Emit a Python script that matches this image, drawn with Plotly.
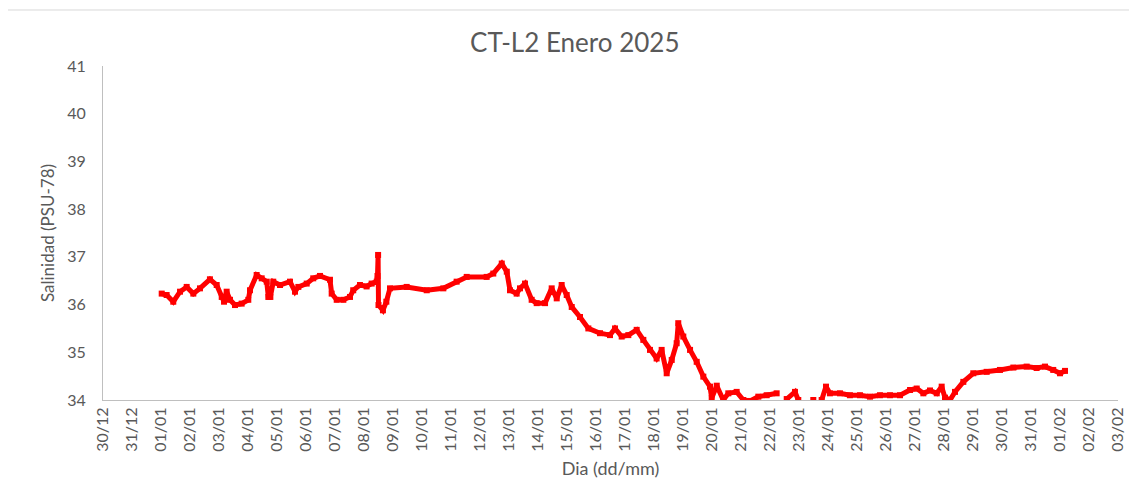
import plotly.graph_objects as go

# ---- data ----
times = [
    "2025-01-01 00:35", "2025-01-01 04:40", "2025-01-01 10:10", "2025-01-01 15:45", "2025-01-01 21:15",
    "2025-01-02 02:45", "2025-01-02 08:15", "2025-01-02 16:30", "2025-01-02 22:05",
    "2025-01-03 02:15", "2025-01-03 04:10", "2025-01-03 06:20", "2025-01-03 09:05", "2025-01-03 13:15", "2025-01-03 18:45",
    "2025-01-04 00:15", "2025-01-04 01:40", "2025-01-04 07:10", "2025-01-04 11:20", "2025-01-04 15:30",
    "2025-01-04 16:50", "2025-01-04 18:30", "2025-01-04 20:55",
    "2025-01-05 02:30", "2025-01-05 10:45", "2025-01-05 14:55", "2025-01-05 17:40",
    "2025-01-06 00:35", "2025-01-06 06:00", "2025-01-06 11:35", "2025-01-06 19:50", "2025-01-06 21:15",
    "2025-01-07 01:25", "2025-01-07 06:55", "2025-01-07 12:25", "2025-01-07 15:05", "2025-01-07 20:40",
    "2025-01-08 02:10", "2025-01-08 06:20", "2025-01-08 10:30", "2025-01-08 11:10", "2025-01-08 11:40",
    "2025-01-08 12:00", "2025-01-08 15:40", "2025-01-08 18:30", "2025-01-08 21:30",
    "2025-01-09 11:20", "2025-01-10 03:55", "2025-01-10 17:40", "2025-01-11 04:40", "2025-01-11 13:00",
    "2025-01-12 05:30", "2025-01-12 11:00", "2025-01-12 18:00", "2025-01-12 22:10",
    "2025-01-13 00:50", "2025-01-13 06:20", "2025-01-13 09:05", "2025-01-13 13:15", "2025-01-13 18:45", "2025-01-13 22:55",
    "2025-01-14 05:50", "2025-01-14 11:20", "2025-01-14 15:30", "2025-01-14 19:35", "2025-01-14 23:45",
    "2025-01-15 03:55", "2025-01-15 10:45", "2025-01-15 17:40",
    "2025-01-16 03:20", "2025-01-16 11:35", "2025-01-16 15:45", "2025-01-16 21:15",
    "2025-01-17 02:45", "2025-01-17 09:40", "2025-01-17 15:10", "2025-01-17 20:40",
    "2025-01-18 02:10", "2025-01-18 06:20", "2025-01-18 10:30", "2025-01-18 14:40", "2025-01-18 18:45", "2025-01-18 20:05",
    "2025-01-19 00:15", "2025-01-19 05:50", "2025-01-19 11:20", "2025-01-19 16:50", "2025-01-19 22:20", "2025-01-19 23:45",
    "2025-01-20 03:55", "2025-01-20 09:20", "2025-01-20 13:30", "2025-01-20 20:25",
    "2025-01-21 01:55", "2025-01-21 07:30", "2025-01-21 14:20", "2025-01-21 21:15",
    "2025-01-22 05:30", "2025-01-22 09:30", "2025-01-22 13:50", "2025-01-22 20:40", "2025-01-22 23:25",
    "2025-01-23 05:00", "2025-01-23 11:50", "2025-01-23 15:00",
    "2025-01-23 18:45", "2025-01-23 22:20",
    "2025-01-24 01:35", "2025-01-24 09:55", "2025-01-24 18:10",
    "2025-01-25 02:30", "2025-01-25 10:45", "2025-01-25 19:00",
    "2025-01-26 03:20", "2025-01-26 11:35", "2025-01-26 19:55",
    "2025-01-27 01:25", "2025-01-27 06:55", "2025-01-27 12:25", "2025-01-27 18:00", "2025-01-27 22:05",
    "2025-01-28 00:50", "2025-01-28 05:00", "2025-01-28 09:05", "2025-01-28 16:00",
    "2025-01-29 00:15", "2025-01-29 11:20", "2025-01-29 22:20",
    "2025-01-30 09:25", "2025-01-30 20:25",
    "2025-01-31 04:40", "2025-01-31 11:35", "2025-01-31 18:25",
    "2025-02-01 00:00", "2025-02-01 04:10",
]
salinity = [
    36.23, 36.20, 36.06, 36.27, 36.37,
    36.23, 36.34, 36.53, 36.41,
    36.16, 36.06, 36.27, 36.10, 35.99, 36.02,
    36.10, 36.30, 36.62, 36.55, 36.48,
    36.16, 36.16, 36.48,
    36.41, 36.48, 36.27, 36.37,
    36.44, 36.55, 36.60, 36.52, 36.23,
    36.10, 36.10, 36.16, 36.30, 36.41,
    36.38, 36.44, 36.48, 36.60, 37.04,
    35.99, 35.88, 36.06, 36.34,
    36.37, 36.30, 36.34, 36.48, 36.58,
    36.58, 36.65, 36.86, 36.69,
    36.30, 36.23, 36.34, 36.44, 36.10, 36.03,
    36.03, 36.34, 36.13, 36.41, 36.20,
    35.95, 35.74, 35.50,
    35.40, 35.36, 35.50, 35.33,
    35.36, 35.47, 35.26, 35.05,
    34.87, 35.05, 34.56, 34.84, 35.19, 35.61,
    35.33, 35.05, 34.80, 34.49, 34.28, 34.04,
    34.30, 34.00, 34.14, 34.17,
    34.00, 33.98, 34.07, 34.10,
    34.14, None, 34.02, 34.17, 34.00,
    None, 34.00, None,
    34.00, 34.28,
    34.14, 34.14, 34.10,
    34.10, 34.07, 34.10,
    34.10, 34.10, 34.21,
    34.24, 34.14, 34.20, 34.14, 34.28,
    34.05, 34.00, 34.17, 34.38,
    34.56, 34.59, 34.63,
    34.68, 34.70,
    34.67, 34.70, 34.63,
    34.56, 34.61,
]

x_range = ["2024-12-30", "2025-02-03"]
y_range = [34, 41]

GRAY = "#595959"
FONT = "Lato"

fig = go.Figure()
fig.add_trace(go.Scatter(
    x=times, y=salinity,
    mode="lines+markers",
    line=dict(color="#ff0000", width=5),
    marker=dict(color="#ff0000", size=6, symbol="square"),
    connectgaps=False,
    showlegend=False,
))

# page body has an 8px margin, so the figure is sized/offset to compensate
fig.update_layout(
    width=1129, height=484,
    margin=dict(l=95, r=19, t=58, b=92),
    paper_bgcolor="white", plot_bgcolor="white",
    font=dict(family=FONT, color=GRAY, size=15),
    title=dict(text="CT-L2 Enero 2025", x=0.502, xanchor="center",
               y=0.928, yanchor="middle", xref="container", yref="container",
               font=dict(family=FONT, size=26, color=GRAY)),
    shapes=[dict(type="rect", xref="paper", yref="paper",
                 x0=-0.0956, x1=1.05, y0=-0.30, y1=1.1677,
                 line=dict(color="#d9d9d9", width=1), fillcolor="rgba(0,0,0,0)",
                 layer="below")],
)

fig.update_xaxes(
    type="date", range=x_range,
    tick0="2024-12-30", dtick=86400000, tickformat="%d/%m",
    tickangle=-90, showgrid=False, zeroline=False,
    showline=True, linecolor="#bfbfbf", linewidth=1,
    ticks="", tickfont=dict(size=16, color=GRAY, family=FONT),
    title=dict(text="Dia (dd/mm)", font=dict(size=18, color=GRAY, family=FONT), standoff=11),
)
fig.update_yaxes(
    range=y_range, dtick=1, showgrid=False, zeroline=False,
    showline=True, linecolor="#bfbfbf", linewidth=1,
    ticks="", ticklabelstandoff=13, tickfont=dict(size=16, color=GRAY, family=FONT),
    title=dict(text="Salinidad (PSU-78)", font=dict(size=17, color=GRAY, family=FONT), standoff=8),
)

fig.write_html("out.html")
